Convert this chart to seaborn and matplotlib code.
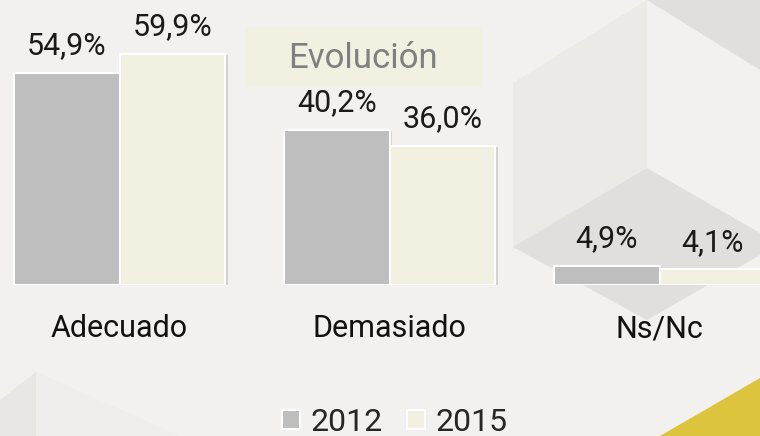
import matplotlib.pyplot as plt
import matplotlib.patheffects as pe
import pandas as pd
import seaborn as sns
from matplotlib.patches import Polygon, Rectangle

# data
categories = ['Adecuado', 'Demasiado', 'Ns/Nc']
years = ['2012', '2015']
values_2012 = [54.9, 40.2, 4.9]
values_2015 = [59.9, 36.0, 4.1]
bar_colors = ['#bebebe', '#f2f0e1']
title = 'Evolución'

df = pd.DataFrame({
    'categoria': categories * 2,
    'anio': [years[0]] * 3 + [years[1]] * 3,
    'valor': values_2012 + values_2015,
})

sns.set_style('white')
plt.rcParams['font.family'] = ['Roboto', 'DejaVu Sans']

fig = plt.figure(figsize=(7.6, 4.36), dpi=100, facecolor='#f2f1ef')

# background decoration in pixel coords
bg = fig.add_axes([0, 0, 1, 1], zorder=0)
bg.set_xlim(0, 760)
bg.set_ylim(436, 0)
bg.axis('off')
shapes = [
    ([(513, 83), (647, 0), (647, 168), (513, 247)], '#ebeae7'),
    ([(647, 0), (760, 0), (760, 70)], '#e0dfdd'),
    ([(513, 247), (647, 168), (760, 233), (760, 255), (647, 320)], '#e0dfdd'),
    ([(0, 400), (36, 372), (36, 436), (0, 436)], '#e8e7e4'),
    ([(36, 372), (180, 436), (36, 436)], '#efeeec'),
    ([(660, 436), (760, 378), (760, 436)], '#dcc43c'),
]
for pts, c in shapes:
    bg.add_patch(Polygon(pts, closed=True, facecolor=c, edgecolor='none'))
bg.add_patch(Rectangle((245, 27), 237, 60, facecolor='#f2f0e1', edgecolor='none'))
bg.text(363, 68, title, ha='center', va='baseline', fontsize=25, color='#808080')

# bars
ax = fig.add_axes([0, 151 / 436, 1, 285 / 436], zorder=1)
ax.patch.set_alpha(0)
sns.barplot(data=df, x='categoria', y='valor', hue='anio', palette=bar_colors,
            saturation=1, width=0.78, edgecolor='white', linewidth=1.5, ax=ax)

shadow = [pe.SimplePatchShadow(offset=(2, -1), shadow_rgbFace='#9a9a9a', alpha=0.35),
          pe.Normal()]
for cont in ax.containers:
    for b in cont:
        b.set_path_effects(shadow)
    labels = [f'{b.get_height():.1f}%'.replace('.', ',') for b in cont]
    ax.bar_label(cont, labels=labels, padding=9, fontsize=22, color='#1a1a1a')

ax.set_xlim(-0.4426, 2.372)
ax.set_ylim(0, 73.8)
ax.set_xlabel('')
ax.set_ylabel('')
ax.set_yticks([])
ax.tick_params(axis='x', length=0, pad=21, labelsize=22, labelcolor='#111111')
sns.despine(ax=ax, left=True, bottom=True)

sns.move_legend(ax, 'center', bbox_to_anchor=(395 / 760, 0.032),
                bbox_transform=fig.transFigure, ncol=2, frameon=False, title=None,
                fontsize=23, handlelength=0.56, handleheight=0.56,
                handletextpad=0.33, columnspacing=0.75)

plt.savefig('out.png', dpi=100, facecolor=fig.get_facecolor())
